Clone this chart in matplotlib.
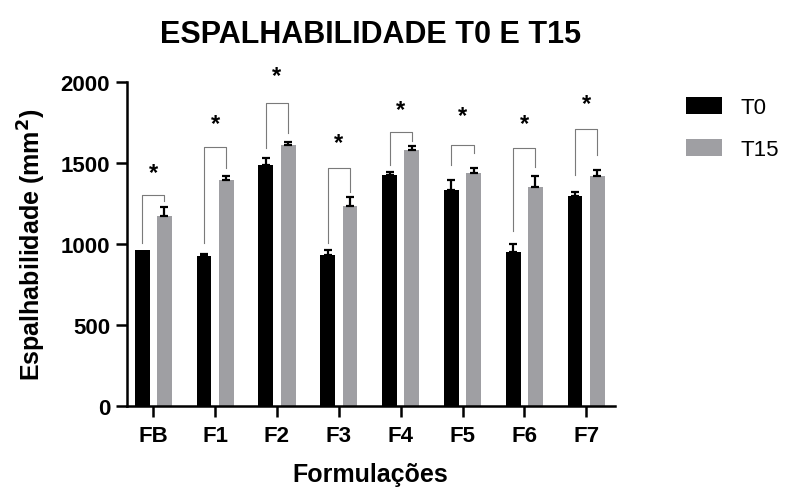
import matplotlib
matplotlib.use("Agg")
import matplotlib.pyplot as plt
import numpy as np
from matplotlib.patches import Patch

plt.rcParams['font.family'] = ['Liberation Sans', 'DejaVu Sans']

# Data
formulations = ["FB", "F1", "F2", "F3", "F4", "F5", "F6", "F7"]
t0_mean = [962, 924, 1487, 930, 1427, 1335, 952, 1294]
t0_err = [0, 14, 41, 32, 19, 59, 49, 27]
t15_mean = [1170, 1394, 1609, 1234, 1582, 1436, 1353, 1417]
t15_err = [60, 27, 20, 57, 25, 33, 66, 39]

# Significance brackets: left leg bottom, top, right leg bottom, star height
bracket_left = [1004, 1004, 1590, 1004, 1487, 1487, 1078, 1425]
bracket_top = [1302, 1596, 1868, 1470, 1689, 1610, 1594, 1707]
bracket_right = [1267, 1468, 1684, 1322, 1637, 1559, 1473, 1549]
star_y = [1444, 1746, 2038, 1627, 1828, 1791, 1746, 1868]

series_labels = ["T0", "T15"]
c_t0 = "#000000"
c_t15 = "#9f9fa3"

fig = plt.figure(figsize=(7.87, 4.89), dpi=100)
ax = fig.add_axes([0.161, 0.1677, 0.620, 0.6625])

x = np.arange(len(formulations))
w = 0.24
off = 0.18

ax.bar(x - off, t0_mean, width=w, color=c_t0, zorder=2)
ax.bar(x + off, t15_mean, width=w, color=c_t15, zorder=2)

err_kw = dict(fmt="none", ecolor="black", elinewidth=1.6, capsize=3.2, capthick=1.6, zorder=3)
t0_e = np.array(t0_err)
m0 = t0_e > 0
ax.errorbar((x - off)[m0], np.array(t0_mean)[m0], yerr=[np.zeros(m0.sum()), t0_e[m0]], **err_kw)
ax.errorbar(x + off, t15_mean, yerr=[np.zeros(len(x)), t15_err], **err_kw)

for i in range(len(x)):
    xl, xr = x[i] - off, x[i] + off
    ax.plot([xl, xl, xr, xr], [bracket_left[i], bracket_top[i], bracket_top[i], bracket_right[i]],
            color="#7a7a7a", lw=0.8, zorder=1, clip_on=False)
    ax.text(x[i], star_y[i], "*", ha="center", va="center", fontsize=17,
            fontweight="bold", clip_on=False)

ax.set_xlim(-0.43, 7.46)
ax.set_ylim(0, 2000)
ax.set_yticks([0, 500, 1000, 1500, 2000])
ax.set_xticks(x)
ax.set_xticklabels(formulations)

for s in ["top", "right"]:
    ax.spines[s].set_visible(False)
for s in ["left", "bottom"]:
    ax.spines[s].set_linewidth(1.8)

ax.tick_params(axis="both", width=1.8, length=8, labelsize=16)
for lab in ax.get_xticklabels() + ax.get_yticklabels():
    lab.set_fontweight("bold")
ax.tick_params(axis="x", pad=6)
ax.tick_params(axis="y", pad=4)

ax.set_xlabel("Formulações", fontsize=18, fontweight="bold", labelpad=11)
ax.set_ylabel("Espalhabilidade (mm$^\\mathbf{2}$)", fontsize=18, fontweight="bold", labelpad=9)
ax.set_title("ESPALHABILIDADE T0 E T15", fontsize=22, fontweight="bold", pad=29)

handles = [Patch(facecolor=c_t0, label=series_labels[0]),
           Patch(facecolor=c_t15, label=series_labels[1])]
fig.legend(handles=handles, loc="upper left", bbox_to_anchor=(0.861, 0.818),
           frameon=False, fontsize=16, handlelength=1.6, handleheight=0.8,
           handletextpad=0.85, labelspacing=0.95, borderaxespad=0)

fig.savefig("out.png", dpi=100)
